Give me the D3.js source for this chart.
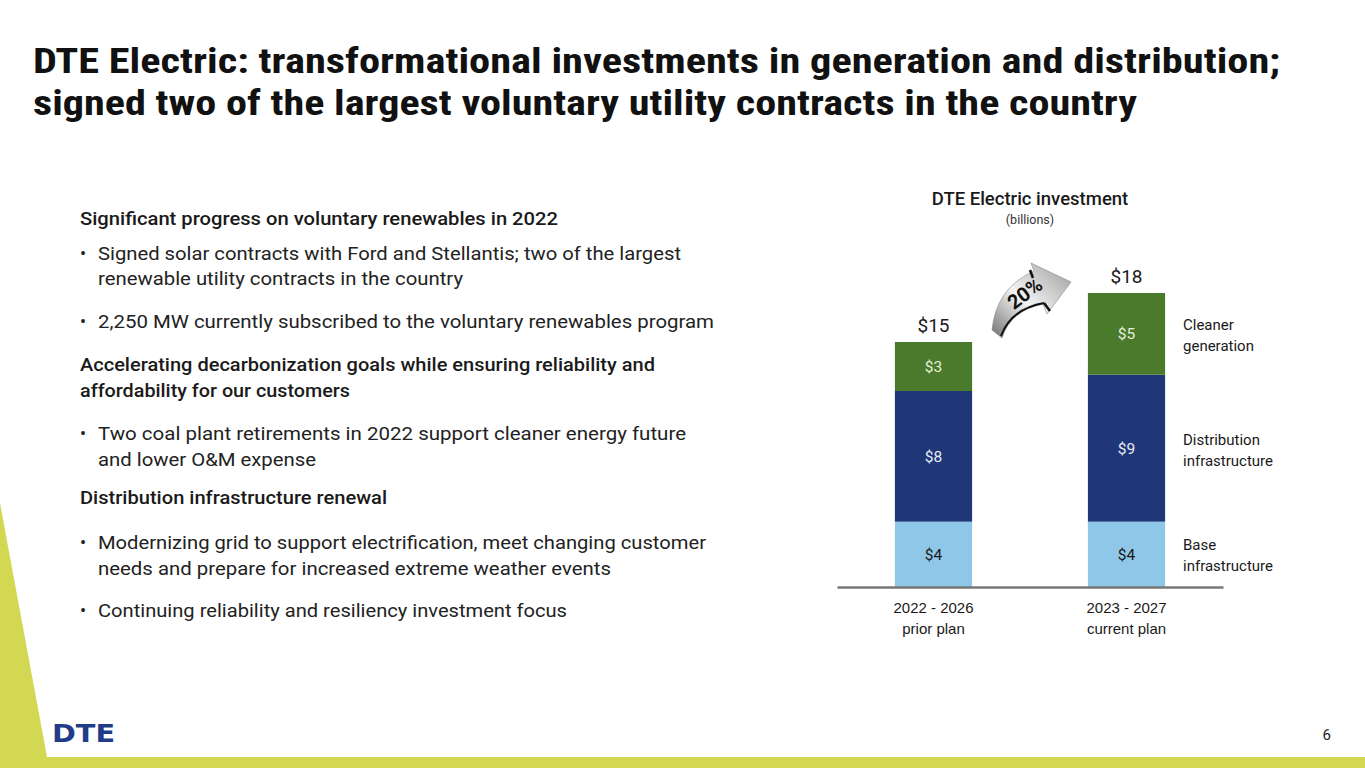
<!DOCTYPE html>
<html><head><meta charset="utf-8">
<script src="https://cdn.jsdelivr.net/npm/d3@7"></script>
<style>body{margin:0;background:#fff;}svg{display:block;font-family:Roboto,"Liberation Sans",sans-serif;}</style>
</head><body>
<svg id="c" width="1365" height="768"></svg>
<script>
const categories = ["2022 - 2026|prior plan", "2023 - 2027|current plan"];
const seriesNames = ["Base infrastructure", "Distribution infrastructure", "Cleaner generation"];
const baseInfra = [4, 4];
const distInfra = [8, 9];
const cleanerGen = [3, 5];
const totalLabels = ["$15", "$18"];
const growthLabel = "20%";

const svg = d3.select("#c");
const W = 1365, H = 768;

// decorations
svg.append("rect").attr("x",0).attr("y",757).attr("width",W).attr("height",11).attr("fill","#D3D852");
svg.append("path").attr("d","M0,503 L47,757 L0,757 Z").attr("fill","#D3D852");
svg.append("text").attr("x",52).attr("y",742).attr("font-size",25).attr("font-weight",900)
  .attr("font-family","'DejaVu Sans',sans-serif").attr("fill","#1F3C88")
  .attr("textLength",63).attr("lengthAdjust","spacingAndGlyphs").text("DTE");
svg.append("text").attr("x",1331).attr("y",740).attr("text-anchor","end").attr("font-size",15).attr("fill","#222").text("6");

// title
const title = [
  {t:"DTE Electric: transformational investments in generation and distribution;", y:73, w:1247},
  {t:"signed two of the largest voluntary utility contracts in the country", y:115, w:1104}
];
svg.selectAll("text.title").data(title).join("text").attr("class","title")
  .attr("x",33).attr("y",d=>d.y).attr("font-size",35).attr("font-weight",700)
  .attr("font-family","'Roboto Condensed',Roboto,'Liberation Sans',sans-serif")
  .attr("fill","#111").attr("textLength",d=>d.w).attr("lengthAdjust","spacingAndGlyphs").text(d=>d.t);

// left text
const leftLines = [
  {t:"Significant progress on voluntary renewables in 2022", y:225, x:80, x2:558, h:true},
  {t:"Signed solar contracts with Ford and Stellantis; two of the largest", y:260, x:98, x2:681, b:true},
  {t:"renewable utility contracts in the country", y:285, x:98, x2:463},
  {t:"2,250 MW currently subscribed to the voluntary renewables program", y:328, x:98, x2:714, b:true},
  {t:"Accelerating decarbonization goals while ensuring reliability and", y:371, x:80, x2:655, h:true},
  {t:"affordability for our customers", y:397, x:80, x2:350, h:true},
  {t:"Two coal plant retirements in 2022 support cleaner energy future", y:440, x:98, x2:686, b:true},
  {t:"and lower O&M expense", y:466, x:98, x2:316},
  {t:"Distribution infrastructure renewal", y:504, x:80, x2:387, h:true},
  {t:"Modernizing grid to support electrification, meet changing customer", y:549, x:98, x2:706, b:true},
  {t:"needs and prepare for increased extreme weather events", y:575, x:98, x2:611},
  {t:"Continuing reliability and resiliency investment focus", y:617, x:98, x2:567, b:true}
];
const lg = svg.append("g");
leftLines.forEach(d=>{
  lg.append("text").attr("x",d.x).attr("y",d.y).attr("font-size",18.5)
    .attr("font-weight",d.h?500:400).attr("fill",d.h?"#1a1a1a":"#222")
    .attr("textLength",d.x2-d.x).attr("lengthAdjust","spacingAndGlyphs").text(d.t);
  if(d.b) lg.append("text").attr("x",80).attr("y",d.y).attr("font-size",18).attr("fill","#222").text("•");
});

// chart
const data = categories.map((c,i)=>({cat:c, base:baseInfra[i], dist:distInfra[i], clean:cleanerGen[i], total:totalLabels[i]}));
const keys = ["base","dist","clean"];
const colors = {base:"#8EC7E8", dist:"#1F3677", clean:"#4A7B2C"};
const textCol = {base:"#1a1a1a", dist:"#E8ECF4", clean:"#E6EEDC"};
const x = d3.scaleBand().domain(categories).range([837,1223]).paddingInner(0.6).paddingOuter(0.3);
const y = d3.scaleLinear().domain([0,18]).range([587,293]);
const stack = d3.stack().keys(keys)(data);

svg.append("text").attr("x",1030).attr("y",205).attr("text-anchor","middle").attr("font-size",18.5).attr("font-weight",500).attr("fill","#1a1a1a").text("DTE Electric investment");
svg.append("text").attr("x",1030).attr("y",224).attr("text-anchor","middle").attr("font-size",12.5).attr("fill","#333").text("(billions)");

const g = svg.append("g");
stack.forEach(layer=>{
  const k = layer.key;
  g.selectAll(null).data(layer).join("rect")
    .attr("x",d=>x(d.data.cat)).attr("width",x.bandwidth())
    .attr("y",d=>y(d[1])).attr("height",d=>y(d[0])-y(d[1])).attr("fill",colors[k]);
  g.selectAll(null).data(layer).join("text")
    .attr("x",d=>x(d.data.cat)+x.bandwidth()/2).attr("y",d=>(y(d[0])+y(d[1]))/2+5.5)
    .attr("text-anchor","middle").attr("font-size",15.5).attr("fill",textCol[k])
    .text(d=>"$"+d.data[k]);
});
// totals
g.selectAll(null).data(data).join("text")
  .attr("x",d=>x(d.cat)+x.bandwidth()/2).attr("y",d=>y(d.base+d.dist+d.clean)-10)
  .attr("text-anchor","middle").attr("font-size",19).attr("fill","#1a1a1a").text(d=>d.total);

// axis
const ax = svg.append("g").attr("transform","translate(0,587)").call(d3.axisBottom(x).tickSize(0).tickFormat(""));
ax.select(".domain").attr("stroke","#777").attr("stroke-width",2.5);
ax.selectAll(".tick").each(function(d){
  const parts = d.split("|");
  const t = d3.select(this).append("text").attr("fill","#1a1a1a").attr("font-size",15).attr("text-anchor","middle");
  t.append("tspan").attr("x",0).attr("y",26).text(parts[0]);
  t.append("tspan").attr("x",0).attr("y",47).text(parts[1]);
});

// right legend labels
const legendLines = [
  {k:"clean", l:["Cleaner","generation"]},
  {k:"dist", l:["Distribution","infrastructure"]},
  {k:"base", l:["Base","infrastructure"]}
];
const legY = {clean:330, dist:445, base:550};
legendLines.forEach(d=>{
  const t = svg.append("text").attr("font-size",15).attr("fill","#1a1a1a");
  d.l.forEach((s,i)=>t.append("tspan").attr("x",1183).attr("y",legY[d.k]+i*21).text(s));
});

// growth arrow
const defs = svg.append("defs");
const gr = defs.append("linearGradient").attr("id","ag").attr("x1","0").attr("y1","1").attr("x2","1").attr("y2","0");
gr.append("stop").attr("offset","0").attr("stop-color","#6f6f6f");
gr.append("stop").attr("offset","0.45").attr("stop-color","#f4f4f4");
gr.append("stop").attr("offset","1").attr("stop-color","#9a9a9a");
svg.append("path").attr("d","M992,330 Q996,288 1034,271 L1031,263 L1071,282 L1047,314 L1043,304 Q1011,310 1002,338 Z")
  .attr("fill","url(#ag)").attr("stroke","#888").attr("stroke-width",0.6);
svg.append("path").attr("d","M1001,336 Q1011,309 1044,303").attr("fill","none").attr("stroke","#111").attr("stroke-width",2);
svg.append("line").attr("x1",1030).attr("y1",270).attr("x2",1033).attr("y2",278).attr("stroke","#111").attr("stroke-width",2.5);
svg.append("line").attr("x1",1044).attr("y1",303).attr("x2",1050).attr("y2",311).attr("stroke","#111").attr("stroke-width",2.5);
svg.append("text").attr("transform","translate(1029,299) rotate(-37)").attr("text-anchor","middle")
  .attr("font-size",20).attr("font-weight",700).attr("fill","#111").text(growthLabel);
</script>
</body></html>
